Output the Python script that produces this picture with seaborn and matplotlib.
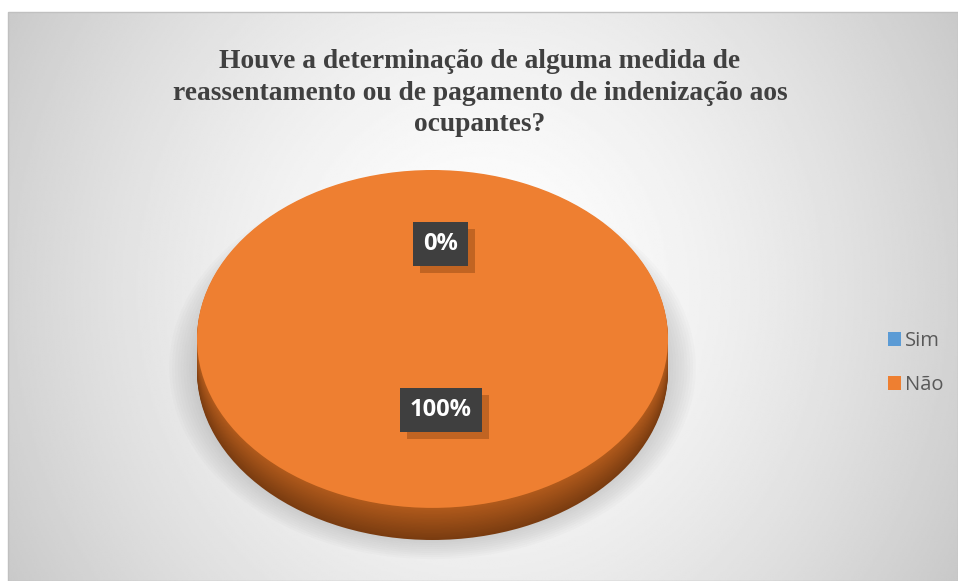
import numpy as np
import matplotlib
matplotlib.use("Agg")
import matplotlib.pyplot as plt
import seaborn as sns
from matplotlib import patheffects as pe
from matplotlib.patches import Rectangle, Patch, Ellipse

# ---- data ----
categories = ["Sim", "Não"]
values = [0, 100]
title = ("Houve a determinação de alguma medida de\n"
         "reassentamento ou de pagamento de indenização aos\n"
         "ocupantes?")

sns.set_theme(style="white")
plt.rcParams['font.family'] = ['Liberation Serif', 'DejaVu Sans']

colors = sns.color_palette(["#5B9BD5", "#EE7F31"])
side_top = np.array(matplotlib.colors.to_rgb("#B05A1C"))
side_bot = np.array(matplotlib.colors.to_rgb("#7A3C10"))

W, H = 958, 581
fig = plt.figure(figsize=(W / 100, H / 100), dpi=100)
fig.patch.set_facecolor("white")

# ---- radial gradient background ----
bg = fig.add_axes([8 / W, 0, (W - 8) / W, (H - 12) / H])
ny, nx = 300, 500
yy, xx = np.mgrid[0:ny, 0:nx]
px = 8 + xx / (nx - 1) * (W - 8)
py = 12 + yy / (ny - 1) * (H - 12)
r = np.sqrt(((px - 480) / 560) ** 2 + ((py - 290) / 600) ** 2)
v = 1 - 0.22 * np.clip(r, 0, 1.3) ** 1.5
bg.imshow(v, cmap="gray", vmin=0, vmax=1, aspect="auto", interpolation="bilinear")
bg.set_axis_off()
fig.patches.append(Rectangle((8 / W, 0), (W - 8) / W, (H - 12) / H,
                             transform=fig.transFigure, fill=False,
                             ec="#c0c0c0", lw=1.0, zorder=5))

# ---- pie axes ----
ax = fig.add_axes([197 / W, (H - 540) / H, 471 / W, 370 / H])
ax.set_facecolor("none")

# soft shadow
for k in range(10):
    s = 1 + k * 0.012
    ax.add_patch(Ellipse((0, -0.17), 2 * s + 0.02, 2 * s + 0.05, fc="#8a8a8a",
                         ec="none", alpha=0.035, clip_on=False, zorder=0))

# side (stacked layers)
offs = np.linspace(-0.19, -0.005, 24)
for i, off in enumerate(offs):
    t = i / (len(offs) - 1)
    c = tuple(side_bot * (1 - t) + side_top * t)
    ax.pie(values, colors=[c, c], startangle=90, counterclock=False,
           center=(0, off), radius=1, wedgeprops=dict(linewidth=0))

# top face
wedges, texts, autotexts = ax.pie(
    values, colors=colors, startangle=90, counterclock=False,
    autopct=lambda p: f"{p:.0f}%", pctdistance=0.49,
    wedgeprops=dict(linewidth=0))

for t in autotexts:
    t.set_fontfamily(["Open Sans", "DejaVu Sans"])
    t.set_fontweight("bold")
    t.set_fontsize(17)
    t.set_color("white")
    x, y = t.get_position()
    t.set_position((x + 0.035, y + 0.07))
    t.set_bbox(dict(boxstyle="square,pad=0.42", fc="#3f3f3f", ec="none", lw=0))
    t.get_bbox_patch().set_path_effects(
        [pe.SimplePatchShadow(offset=(5, -5), shadow_rgbFace="#b35b1d", alpha=0.75),
         pe.Normal()])

ax.set_aspect("auto")
ax.set_xlim(-1, 1)
ax.set_ylim(-1.19, 1)
ax.set_axis_off()

# ---- title ----
fig.text(480 / W, 1 - 93 / H, title, ha="center", va="center",
         fontsize=19.8, fontweight="bold", color="#404040",
         family=["Liberation Serif", "DejaVu Sans"], linespacing=1.32)

# ---- legend ----
handles = [Patch(facecolor=c, edgecolor="none") for c in colors]
leg = fig.legend(handles, categories, loc="center left",
                 bbox_to_anchor=(870 / W, 1 - 363 / H), frameon=False,
                 prop=dict(family=["Open Sans", "DejaVu Sans"], size=14.5),
                 handlelength=0.65, handleheight=0.65, handletextpad=0.2,
                 labelspacing=1.2)
for txt in leg.get_texts():
    txt.set_color("#595959")

fig.savefig("out.png", dpi=100)
